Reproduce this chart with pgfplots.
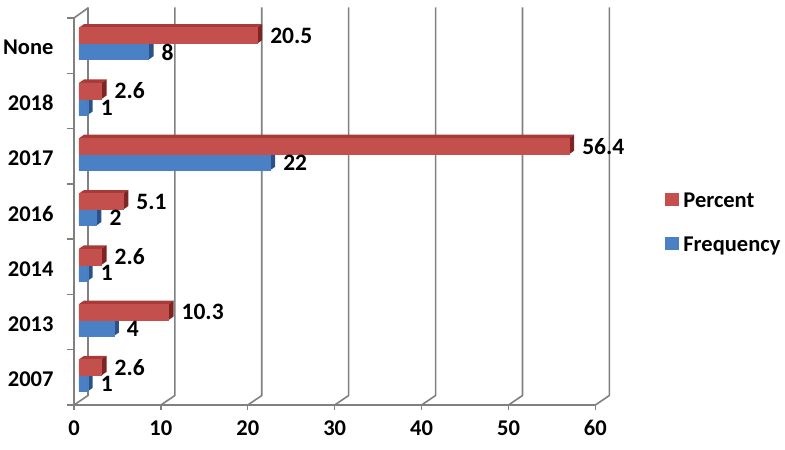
\documentclass[border=0pt]{standalone}
\usepackage{fontspec}
\setmainfont{Carlito}
\usepackage{pgfplots}
\usepackage{pgfplotstable}
\pgfplotsset{compat=1.18}
\definecolor{redF}{HTML}{C4504E}
\definecolor{redT}{HTML}{A83A38}
\definecolor{redS}{HTML}{7E2422}
\definecolor{bluF}{HTML}{4A80C4}
\definecolor{bluS}{HTML}{2A5288}
\definecolor{axg}{HTML}{808080}
\pgfplotstableread{
y v
0 2.6
1 10.3
2 2.6
3 5.1
4 56.4
5 2.6
6 20.5
}\percent
\pgfplotstableread{
y v
0 1
1 4
2 1
3 2
4 22
5 1
6 8
}\frequency
\newcommand{\redfaces}[2]{%
 \pgfmathsetmacro\b{#1}\pgfmathsetmacro\t{#1+.2894}\pgfmathsetmacro\tt{#1+.2894+.0633}%
 \pgfmathsetmacro\bb{#1+.0633}\pgfmathsetmacro\dd{.575}\pgfmathsetmacro\e{#2+.575}%
 \addplot[draw=none,fill=redT,forget plot,xshift=5pt,yshift=2pt] coordinates {(0,\t)(#2,\t)(\e,\tt)(\dd,\tt)};
 \addplot[draw=none,fill=redS,forget plot,xshift=5pt,yshift=2pt] coordinates {(#2,\b)(#2,\t)(\e,\tt)(\e,\bb)};
}
\newcommand{\blufaces}[2]{%
 \pgfmathsetmacro\b{#1-.2894}\pgfmathsetmacro\t{#1}\pgfmathsetmacro\tt{#1+.0633}%
 \pgfmathsetmacro\bb{#1-.2894+.0633}\pgfmathsetmacro\e{#2+.575}%
 \addplot[draw=none,fill=bluS,forget plot,xshift=5pt,yshift=2pt] coordinates {(#2,\b)(#2,\t)(\e,\tt)(\e,\bb)};
}
\begin{document}
\begin{tikzpicture}[x=1pt,y=1pt]
\path[use as bounding box] (-74,-45) rectangle (711,405);
\begin{axis}[
 at={(0,0)},anchor=south west,
 scale only axis,width=521.4pt,height=387pt,
 xmin=0,xmax=60,ymin=-0.5,ymax=6.5,
 clip=false,
 axis x line*=bottom,axis y line*=left,
 axis line style={axg,line width=1.6pt,-},
 xtick={0,10,...,60},
 ytick={0,...,6},
 yticklabels={2007,2013,2014,2016,2017,2018,None},
 minor ytick={-0.5,0.5,...,6.5},
 tick style={axg,line width=1.4pt},
 major tick length=5pt,
 minor tick length=7pt,
 ymajorticks=true,
 y tick style={draw=none},
 minor y tick style={draw=axg,line width=1.4pt},
 tick align=outside,
 /pgf/number format/assume math mode=true,
 tick label style={font=\fontsize{22.5}{24}\selectfont\bfseries,text=black},
 yticklabel style={anchor=east,xshift=-12pt,yshift=-2pt},
 xticklabel style={anchor=north,yshift=-7pt},
 reverse legend,
 legend style={at={(591pt,182pt)},anchor=west,draw=none,fill=none,
   font=\fontsize{22.5}{24}\selectfont\bfseries,row sep=24pt,inner sep=0pt},
 legend cell align=left,
 legend image code/.code={\draw[draw=#1,line width=0.4pt,fill] (0pt,-6pt) rectangle (13pt,6pt);\path[draw=none,fill=none] (0pt,0pt) -- (16pt,0pt);},
]
% back wall
\pgfplotsinvokeforeach{0,10,...,60}{
 \draw[axg,line width=1.6pt] (axis cs:#1,-0.5) -- ++(14pt,9.5pt) -- ++(0pt,388pt);
}
\draw[axg,line width=1.6pt] (axis cs:0,6.5) -- ++(14pt,10pt);
% blue
\blufaces{0}{1}\blufaces{1}{4}\blufaces{2}{1}\blufaces{3}{2}\blufaces{4}{22}\blufaces{5}{1}\blufaces{6}{8}
\addplot[xbar,bar width=16pt,bar shift=-8pt,xshift=5pt,yshift=2pt,draw=bluF,line width=0.3pt,fill=bluF,
  nodes near coords,point meta=explicit symbolic,
  nodes near coords style={font=\fontsize{23.5}{24}\selectfont\bfseries,text=black,anchor=west,xshift=13pt,yshift=-8.5pt,inner sep=0pt},
  ] table[x=v,y=y,meta=v] {\frequency};
\addlegendentry{Frequency}
% red
\redfaces{0}{2.6}\redfaces{1}{10.3}\redfaces{2}{2.6}\redfaces{3}{5.1}\redfaces{4}{56.4}\redfaces{5}{2.6}\redfaces{6}{20.5}
\addplot[xbar,bar width=16pt,bar shift=8pt,xshift=5pt,yshift=2pt,draw=redF,line width=0.3pt,fill=redF,
  nodes near coords,point meta=explicit symbolic,
  nodes near coords style={font=\fontsize{23.5}{24}\selectfont\bfseries,text=black,anchor=west,xshift=13pt,yshift=8pt,inner sep=0pt},
  ] table[x=v,y=y,meta=v] {\percent};
\addlegendentry{Percent}
\end{axis}
\end{tikzpicture}
\end{document}
